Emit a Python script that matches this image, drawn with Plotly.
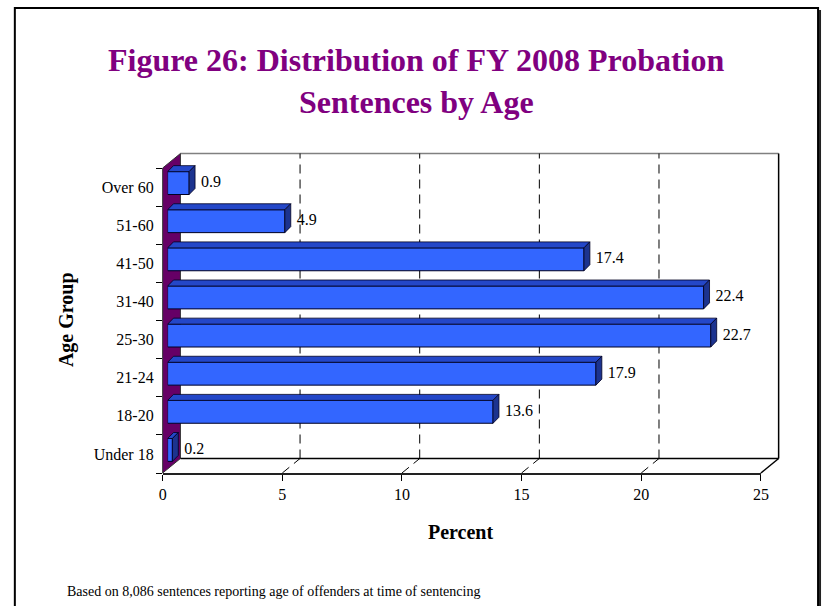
import plotly.graph_objects as go

# data
age_groups = ["Under 18", "18-20", "21-24", "25-30", "31-40", "41-50", "51-60", "Over 60"]
percents = [0.2, 13.6, 17.9, 22.7, 22.4, 17.4, 4.9, 0.9]
x_ticks = [0, 5, 10, 15, 20, 25]

W, H = 830, 606
SERIF = "Liberation Serif, Times New Roman, serif"

# pixel geometry of the fake 3d box (front plane, bar plane, back plane)
FX0, FX1 = 161, 768      # front plane x for 0 and 25
FY0, FY1 = 473, 168      # front plane bottom / top
BAR_DX, BAR_DY = 5, -4   # bar plane offset from front plane
BACK_DX, BACK_DY = 18, -14.5
XMAX = 25
PX_PER_X = (FX1 - FX0) / XMAX
PX_PER_CAT = (FY0 - FY1) / len(age_groups)
FACE_DX, FACE_DY = 6, 6  # bar depth in px


def fx(px):
    return px / W


def fy(py):
    return 1 - py / H


def front_px(v):
    return FX0 + v * PX_PER_X


fig = go.Figure()

# empty trace so the front-plane axes (x/y) get drawn
fig.add_trace(go.Scatter(x=[], y=[], xaxis="x", yaxis="y", showlegend=False))

# front bars on bar plane (x2/y2)
idx = list(range(len(age_groups)))
fig.add_trace(go.Bar(
    x=percents, y=idx, orientation="h", width=0.6,
    marker=dict(color="#3366FF", line=dict(color="#000022", width=1)),
    xaxis="x2", yaxis="y2", showlegend=False, hoverinfo="skip"
))

# top and side faces, offsets converted to data units
ddx = FACE_DX / PX_PER_X
ddy = FACE_DY / PX_PER_CAT
half = 0.3
top_x, top_y, side_x, side_y = [], [], [], []
for i, v in enumerate(percents):
    top_x += [0, v, v + ddx, ddx, 0, None]
    top_y += [i + half, i + half, i + half + ddy, i + half + ddy, i + half, None]
    side_x += [v, v, v + ddx, v + ddx, v, None]
    side_y += [i - half, i + half, i + half + ddy, i - half + ddy, i - half, None]
fig.add_trace(go.Scatter(
    x=top_x, y=top_y, fill="toself", fillcolor="#2447C8", mode="lines",
    line=dict(color="#000022", width=0.8), xaxis="x2", yaxis="y2",
    showlegend=False, hoverinfo="skip"
))
fig.add_trace(go.Scatter(
    x=side_x, y=side_y, fill="toself", fillcolor="#1C338F", mode="lines",
    line=dict(color="#000022", width=0.8), xaxis="x2", yaxis="y2",
    showlegend=False, hoverinfo="skip"
))

# value labels
fig.add_trace(go.Scatter(
    x=[v + ddx + 0.25 for v in percents], y=idx, mode="text",
    text=[f"{v}" for v in percents], textposition="middle right",
    textfont=dict(family=SERIF, size=16, color="black"),
    xaxis="x2", yaxis="y2", showlegend=False, hoverinfo="skip", cliponaxis=False
))

shapes = []
# back wall
bx0, bx1 = FX0 + BACK_DX, FX1 + BACK_DX
by0, by1 = FY0 + BACK_DY, FY1 + BACK_DY
shapes.append(dict(type="rect", xref="paper", yref="paper", layer="below",
                   x0=fx(bx0), x1=fx(bx1), y0=fy(by0), y1=fy(by1),
                   fillcolor="white", line=dict(width=0)))
shapes.append(dict(type="line", xref="paper", yref="paper", layer="below",
                   x0=fx(bx0), x1=fx(bx1), y0=fy(by1), y1=fy(by1),
                   line=dict(color="#808080", width=1.5)))
shapes.append(dict(type="line", xref="paper", yref="paper", layer="below",
                   x0=fx(bx1), x1=fx(bx1), y0=fy(by0), y1=fy(by1),
                   line=dict(color="black", width=1.5)))

# purple side wall
wall = (f"M {fx(FX0)},{fy(FY0)} L {fx(bx0)},{fy(by0)} "
        f"L {fx(bx0)},{fy(by1)} L {fx(FX0)},{fy(FY1)} Z")
shapes.append(dict(type="path", xref="paper", yref="paper", layer="below",
                   path=wall, fillcolor="#660066",
                   line=dict(color="#333333", width=1)))

# gridlines: dashed on back wall and across the floor
for v in x_ticks[1:-1]:
    px = front_px(v)
    shapes.append(dict(type="line", xref="paper", yref="paper", layer="below",
                       x0=fx(px + BACK_DX), x1=fx(px + BACK_DX), y0=fy(by0), y1=fy(by1),
                       line=dict(color="black", width=1, dash="9px,6px")))
    shapes.append(dict(type="line", xref="paper", yref="paper", layer="below",
                       x0=fx(px), x1=fx(px + BACK_DX), y0=fy(FY0), y1=fy(by0),
                       line=dict(color="black", width=1, dash="9px,6px")))

# floor edges
shapes.append(dict(type="line", xref="paper", yref="paper", layer="below",
                   x0=fx(bx0), x1=fx(bx1), y0=fy(by0), y1=fy(by0),
                   line=dict(color="black", width=1.5)))
shapes.append(dict(type="line", xref="paper", yref="paper", layer="below",
                   x0=fx(FX1), x1=fx(bx1), y0=fy(FY0), y1=fy(by0),
                   line=dict(color="black", width=1.5)))

# outer frame
shapes.append(dict(type="rect", xref="paper", yref="paper",
                   x0=fx(11), x1=fx(826), y0=fy(8), y1=fy(640),
                   line=dict(color="black", width=2)))
shapes.append(dict(type="line", xref="paper", yref="paper",
                   x0=fx(828), x1=fx(828), y0=fy(10), y1=fy(640),
                   line=dict(color="#222222", width=2)))


def note(text, x, y, size, color="black", **kw):
    return dict(text=text, x=fx(x), y=fy(y), xref="paper", yref="paper",
                showarrow=False, xanchor=kw.pop("xanchor", "center"), yanchor="middle",
                font=dict(family=SERIF, size=size, color=color), **kw)


annotations = [
    note("<b>Figure 26: Distribution of FY 2008 Probation</b>", 419, 60, 32, "#800080"),
    note("<b>Sentences by Age</b>", 419, 102, 32, "#800080"),
    note("<b>Age Group</b>", 64, 320, 20, textangle=-90),
    note("<b>Percent</b>", 463, 532, 20),
    note("Based on 8,086 sentences reporting age of offenders at time of sentencing",
         62, 591, 14, xanchor="left"),
]

n = len(age_groups)
fig.update_layout(
    width=W, height=H, autosize=False,
    margin=dict(l=0, r=0, t=0, b=0),
    paper_bgcolor="white", plot_bgcolor="rgba(0,0,0,0)",
    shapes=shapes, annotations=annotations,
    # front plane axes: ticks and labels
    xaxis=dict(domain=[fx(FX0), fx(FX1)], range=[0, XMAX], anchor="y",
               tickvals=x_ticks, ticks="outside", ticklen=6, tickcolor="black",
               showline=True, linecolor="#222222", linewidth=2,
               showgrid=False, zeroline=False, fixedrange=True,
               tickfont=dict(family=SERIF, size=16, color="black")),
    yaxis=dict(domain=[fy(FY0), fy(FY1)], range=[-0.5, n - 0.5], anchor="x",
               tickvals=idx, ticktext=age_groups, ticks="", ticklabelstandoff=8,
               minor=dict(tickvals=[i - 0.5 for i in range(n + 1)], ticks="outside",
                          ticklen=6, tickcolor="black", showgrid=False),
               showline=False, showgrid=False, zeroline=False, fixedrange=True,
               tickfont=dict(family=SERIF, size=16, color="black")),
    # bar plane axes, hidden
    xaxis2=dict(domain=[fx(FX0 + BAR_DX), fx(FX1 + BAR_DX)], range=[0, XMAX], anchor="y2",
                visible=False, fixedrange=True),
    yaxis2=dict(domain=[fy(FY0 + BAR_DY), fy(FY1 + BAR_DY)], range=[-0.5, n - 0.5],
                anchor="x2", visible=False, fixedrange=True),
)

# drop the default page margin so the figure sits at the window's top-left corner
fig.write_html("out.html", config={"displayModeBar": False},
               post_script="document.body.style.margin='0';document.body.style.overflow='hidden';")
